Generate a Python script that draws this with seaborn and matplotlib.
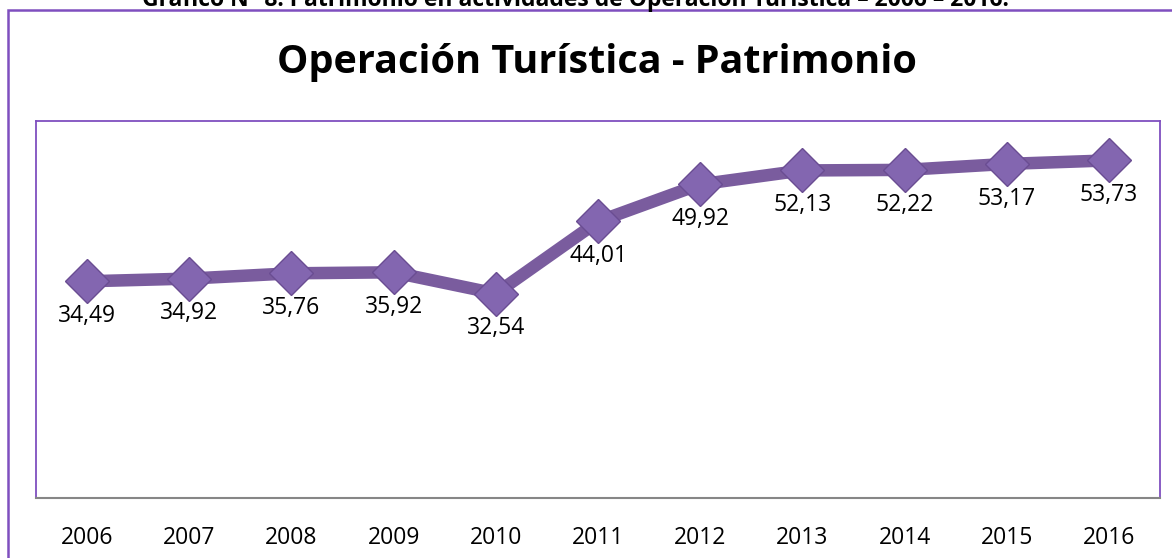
import matplotlib
matplotlib.use("Agg")
import matplotlib.pyplot as plt
import seaborn as sns
import pandas as pd
from matplotlib.patches import Rectangle

years = ["2006", "2007", "2008", "2009", "2010", "2011", "2012", "2013", "2014", "2015", "2016"]
values = [34.49, 34.92, 35.76, 35.92, 32.54, 44.01, 49.92, 52.13, 52.22, 53.17, 53.73]
labels = ["34,49", "34,92", "35,76", "35,92", "32,54", "44,01", "49,92", "52,13", "52,22", "53,17", "53,73"]

sns.set_theme(style="white")
plt.rcParams['font.family'] = ['Open Sans', 'DejaVu Sans']

df = pd.DataFrame({"x": range(len(years)), "y": values})

fig = plt.figure(figsize=(11.72, 5.58), dpi=100)
ax = fig.add_axes([36/1172, 1-498/558, (1160-36)/1172, (498-121)/558])

sns.lineplot(data=df, x="x", y="y", ax=ax, color="#7A5C9E", linewidth=9,
             marker="D", markersize=22, markerfacecolor="#8366B0",
             markeredgecolor="#6A4D92", markeredgewidth=1, legend=False)

for i, (v, lab) in enumerate(zip(values, labels)):
    ax.annotate(lab, (i, v), xytext=(0, -25), textcoords="offset points",
                ha="center", va="center", fontsize=16.5, color="black")

ax.set_xlim(-0.5, len(years) - 0.5)
ax.set_ylim(0, 60)
ax.set_xticks(range(len(years)))
ax.set_xticklabels(years, fontsize=16.5, color="black")
ax.tick_params(axis="x", length=0, pad=20)
ax.set_yticks([])
ax.set_xlabel("")
ax.set_ylabel("")
for s in ["left", "top", "right"]:
    ax.spines[s].set_color("#7F4FBF")
    ax.spines[s].set_linewidth(1.3)
ax.spines["bottom"].set_color("#868686")
ax.spines["bottom"].set_linewidth(1.5)

fig.text(597/1172, 1-62/558, "Operación Turística - Patrimonio", ha="center", va="center",
         fontsize=28.5, fontweight="bold", color="black")

fig.text(575/1172, 1.0, "Gráfico N° 8: Patrimonio en actividades de Operación Turística – 2006 – 2016.",
         ha="center", va="center", fontsize=16.5, fontweight="bold", color="black")

fig.patches.append(Rectangle((8/1172, -0.05), 1.2, 1-10/558+0.05, transform=fig.transFigure,
                             fill=False, edgecolor="#7F4FBF", linewidth=1.8))

fig.savefig("out.png", dpi=100)
